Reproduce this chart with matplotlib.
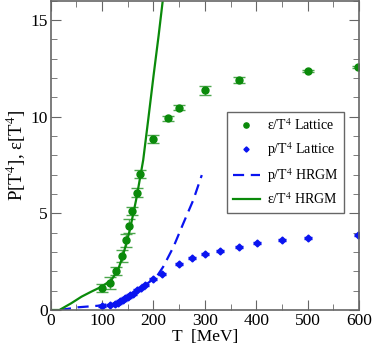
import matplotlib
matplotlib.use("Agg")
import matplotlib.pyplot as plt
from matplotlib.ticker import MultipleLocator

plt.rcParams["font.family"] = ["Liberation Serif", "DejaVu Serif"]
plt.rcParams["mathtext.fontset"] = "stix"

# lattice energy density e/T^4
e_T = [99, 115, 128, 139, 147, 152, 159, 167, 174.5, 200, 228, 250, 300, 366, 500, 598]
e_val = [1.12, 1.41, 2.03, 2.8, 3.6, 4.35, 5.14, 6.07, 7.03, 8.83, 9.91, 10.47, 11.36, 11.88, 12.34, 12.55]
e_err = [0.2, 0.3, 0.2, 0.3, 0.35, 0.35, 0.2, 0.25, 0.2, 0.2, 0.15, 0.15, 0.25, 0.15, 0.05, 0.05]

# lattice pressure p/T^4
p_T = [99, 115, 125, 130, 135, 140, 145, 150, 155, 160, 167, 175, 183.5,
       200, 216, 250, 274, 300, 330, 366, 401, 451, 500, 598]
p_val = [0.2, 0.28, 0.33, 0.38, 0.45, 0.52, 0.6, 0.68, 0.76, 0.85, 1.03, 1.14, 1.29,
         1.6, 1.86, 2.36, 2.67, 2.88, 3.07, 3.28, 3.45, 3.62, 3.74, 3.9]
p_err = [0.05] * len(p_T)

# HRGM curves
he_T = [0, 17, 40, 60, 79, 98.5, 118, 131, 141, 154, 167, 180, 190, 200, 210, 218]
he_val = [0.0, 0.0, 0.35, 0.69, 0.95, 1.2, 1.55, 2.07, 2.85, 4.14, 5.8, 7.76, 9.9, 12.1, 14.2, 16.0]
hp_T = [18, 53, 92, 124.5, 150, 170, 187, 206, 219, 239, 258, 277.5, 294]
hp_val = [0.0, 0.14, 0.22, 0.35, 0.69, 1.0, 1.35, 1.72, 2.24, 3.27, 4.48, 5.69, 6.98]

green = "#0a8a0a"
blue = "#0a14f0"

fig = plt.figure(figsize=(3.74, 3.48), dpi=100)
ax = fig.add_axes([0.1356, 0.1092, 0.8244, 0.8888])

ax.errorbar(e_T, e_val, yerr=e_err, fmt="none", ecolor=(0.3, 0.65, 0.3),
            elinewidth=1, capsize=4, capthick=1)
ax.errorbar(p_T, p_val, yerr=p_err, fmt="none", ecolor=blue,
            elinewidth=1, capsize=3, capthick=1)
h_e, = ax.plot(e_T, e_val, "o", color=green, ms=5, label="ε/T$^4$ Lattice")
h_p, = ax.plot(p_T, p_val, "D", color=blue, ms=3.5, label="p/T$^4$ Lattice")
h_hp, = ax.plot(hp_T, hp_val, "--", color=blue, lw=1.6, dashes=(5, 3), label="p/T$^4$ HRGM")
h_he, = ax.plot(he_T, he_val, "-", color=green, lw=1.6, label="ε/T$^4$ HRGM")

ax.set_xlim(0, 600)
ax.set_ylim(0, 16)
ax.xaxis.set_major_locator(MultipleLocator(100))
ax.xaxis.set_minor_locator(MultipleLocator(50))
ax.yaxis.set_major_locator(MultipleLocator(5))
ax.yaxis.set_minor_locator(MultipleLocator(1))
ax.tick_params(which="both", direction="in", top=True, right=True, colors="#666666",
               labelcolor="black", labelsize=12.5, pad=2)
ax.tick_params(which="major", length=7)
ax.tick_params(which="minor", length=4)
for s in ax.spines.values():
    s.set_color("#666666")
    s.set_linewidth(1.2)

ax.set_xlabel("T  [MeV]", fontsize=12.5, labelpad=0)
ax.set_ylabel("P[T$^4$], ε[T$^4$]", fontsize=13.5, labelpad=2)

leg = ax.legend(handles=[h_e, h_p, h_hp, h_he], loc="upper right",
                bbox_to_anchor=(0.951, 0.641), fontsize=10, numpoints=1,
                markerscale=0.75, fancybox=False, edgecolor="#666666",
                framealpha=1, handlelength=1.95, borderpad=0.4,
                labelspacing=0.5, handletextpad=0.5, borderaxespad=0)
leg.get_frame().set_linewidth(1)

fig.savefig("out.png", dpi=100)
